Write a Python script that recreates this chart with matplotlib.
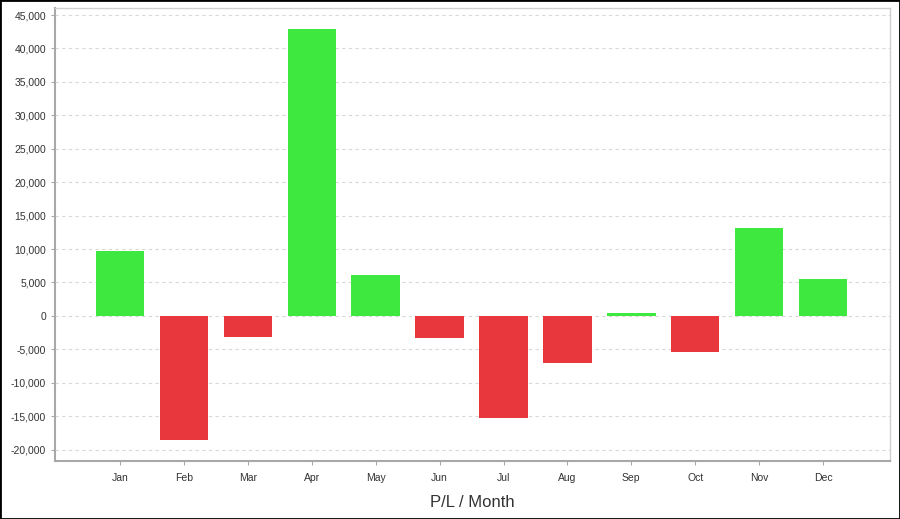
import matplotlib
matplotlib.use("Agg")
import matplotlib.pyplot as plt
from matplotlib.ticker import FuncFormatter, MultipleLocator
from matplotlib.patches import Rectangle

plt.rcParams['font.family'] = ['Liberation Sans', 'DejaVu Sans']

months = ["Jan", "Feb", "Mar", "Apr", "May", "Jun", "Jul", "Aug", "Sep", "Oct", "Nov", "Dec"]
pl_values = [9700, -18500, -3100, 42900, 6100, -3300, -15200, -7000, 450, -5400, 13200, 5500]

green = "#3ee83e"
red = "#e8383d"

fig = plt.figure(figsize=(9.0, 5.19), dpi=100)
ax = fig.add_axes([0.0611, 0.1118, 0.9279, 0.8728])

x = list(range(len(months)))
colors = [green if v >= 0 else red for v in pl_values]
ax.bar(x, pl_values, width=0.76, color=colors, zorder=3, edgecolor="none")

ax.set_xlim(-1.02, 12.05)
ax.set_ylim(-21700, 46050)
ax.yaxis.set_major_locator(MultipleLocator(5000))
ax.yaxis.set_major_formatter(FuncFormatter(lambda v, p: f"{int(v):,}"))
ax.set_xticks(x)
ax.set_xticklabels(months)

ax.grid(axis="y", color="#d8d8d8", linestyle=(0, (3, 3)), linewidth=0.8, zorder=0)
for s in ["left", "bottom"]:
    ax.spines[s].set_color("#a8a8a8")
    ax.spines[s].set_linewidth(1.5)
for s in ["top", "right"]:
    ax.spines[s].set_color("#d0d0d0")
    ax.spines[s].set_linewidth(1.0)

ax.tick_params(axis="both", labelsize=7.5, colors="#a8a8a8", labelcolor="#333333", length=3, width=0.8)
ax.tick_params(axis="x", pad=6)
ax.set_xlabel("P/L / Month", fontsize=12, color="#333333", labelpad=8)

fig.patches.append(Rectangle((0, 0), 1, 1, transform=fig.transFigure, fill=False,
                             edgecolor="black", linewidth=2, zorder=10))

fig.savefig("out.png", dpi=100)
